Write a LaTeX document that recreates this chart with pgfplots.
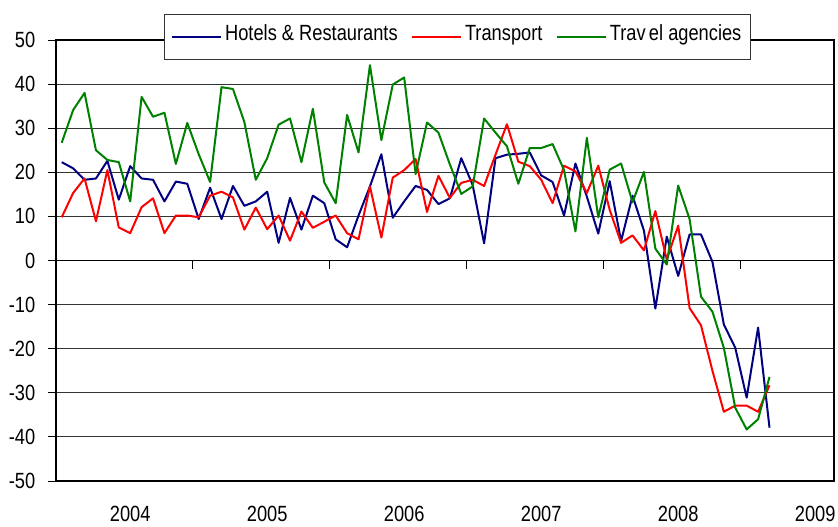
\documentclass[border=0pt]{standalone}
\usepackage{pgfplots}
\pgfplotsset{compat=1.18}
\usepackage{fontspec}
\setmainfont{Liberation Sans}[FakeStretch=0.83]
\definecolor{hrblue}{RGB}{0,0,128}
\definecolor{trred}{RGB}{255,0,0}
\definecolor{tagreen}{RGB}{0,128,0}
\begin{document}
\begin{tikzpicture}
\path[use as bounding box] (-42pt,-33.75pt) rectangle (586.5pt,360.75pt);
\begin{axis}[
  at={(0,0)}, anchor=south west,
  scale only axis,
  width=583.5pt, height=330.75pt,
  xmin=0.5, xmax=68.65,
  ymin=-50, ymax=50,
  ytick={-50,-40,...,50},
  yticklabels={-50,-40,-30,-20,-10,0,10,20,30,40,50},
  xtick={7,19,31,43,55,67},
  xticklabels={2004,2005,2006,2007,2008,2009},
  x tick style={draw=none},
  ytick pos=left,
  y tick style={black, line width=0.75pt},
  tick align=outside,
  major tick length=6pt,
  ymajorgrids,
  grid style={black!80, line width=0.75pt},
  axis line style={black, line width=1.2pt},
  every tick label/.append style={font=\fontsize{16.5}{19}\selectfont},
  yticklabel style={xshift=-6pt},
  xticklabel style={inner ysep=0pt, yshift=-13pt},
  legend columns=3,
  legend style={at={(0.1388,1.059)}, anchor=north west,
    draw=black!80, line width=0.75pt, fill=white,
    font=\fontsize{16.5}{19}\selectfont,
    inner xsep=5pt, inner ysep=8pt,
    nodes={inner xsep=2pt, inner ysep=0pt, text height=11.5pt, text depth=6pt},
    /tikz/every even column/.append style={column sep=8pt}},
  legend image code/.code={\draw[#1] (0pt,0pt) -- (37pt,0pt);},
]
\draw[black, line width=1pt] (axis cs:0.5,0) -- (axis cs:68.65,0);
\pgfplotsinvokeforeach{12.5,24.5,36.5,48.5,60.5}{
  \draw[black, line width=0.75pt] (axis cs:#1,0) -- ([yshift=-6pt]axis cs:#1,0);
}
\addplot[hrblue, line width=1.5pt, line join=round] coordinates {
(1,22.3)(2,20.9)(3,18.3)(4,18.6)(5,22.6)(6,13.8)(7,21.4)(8,18.6)(9,18.3)(10,13.4)
(11,17.9)(12,17.4)(13,9.4)(14,16.5)(15,9.4)(16,16.9)(17,12.4)(18,13.4)(19,15.6)(20,4.0)
(21,14.2)(22,7.0)(23,14.7)(24,13.0)(25,4.8)(26,3.0)(27,10.2)(28,16.8)(29,24.1)(30,9.7)
(31,13.4)(32,16.9)(33,16.0)(34,12.8)(35,14.1)(36,23.2)(37,17.1)(38,3.9)(39,23.2)(40,24.0)
(41,24.2)(42,24.5)(43,19.3)(44,17.8)(45,10.2)(46,22.0)(47,14.5)(48,6.1)(49,18.0)(50,4.4)
(51,14.7)(52,6.8)(53,-10.9)(54,5.4)(55,-3.5)(56,5.9)(57,5.9)(58,-0.3)(59,-14.5)(60,-19.8)
(61,-31.1)(62,-15.2)(63,-37.9)
};
\addlegendentry{Hotels \& Restaurants}
\addplot[trred, line width=1.5pt, line join=round] coordinates {
(1,9.8)(2,15.3)(3,18.6)(4,8.9)(5,20.5)(6,7.5)(7,6.2)(8,12.1)(9,14.1)(10,6.2)
(11,10.2)(12,10.2)(13,9.8)(14,14.7)(15,15.6)(16,14.3)(17,7.0)(18,12.0)(19,7.1)(20,10.2)
(21,4.5)(22,11.1)(23,7.4)(24,8.8)(25,10.2)(26,6.2)(27,4.8)(28,16.8)(29,5.2)(30,18.8)
(31,20.5)(32,23.0)(33,11.0)(34,19.2)(35,14.2)(36,17.6)(37,18.3)(38,16.9)(39,24.0)(40,30.9)
(41,22.4)(42,21.4)(43,18.3)(44,13.0)(45,21.5)(46,20.2)(47,15.3)(48,21.5)(49,11.5)(50,4.0)
(51,5.7)(52,2.3)(53,11.2)(54,0.2)(55,7.9)(56,-10.8)(57,-14.7)(58,-25.0)(59,-34.3)(60,-32.9)
(61,-32.9)(62,-34.3)(63,-28.3)
};
\addlegendentry{Transport}
\addplot[tagreen, line width=1.5pt, line join=round] coordinates {
(1,26.7)(2,34.1)(3,38.0)(4,25.0)(5,22.8)(6,22.3)(7,13.4)(8,37.1)(9,32.6)(10,33.5)
(11,21.9)(12,31.2)(13,24.1)(14,17.8)(15,39.3)(16,38.9)(17,31.4)(18,18.3)(19,23.2)(20,30.8)
(21,32.2)(22,22.3)(23,34.4)(24,17.7)(25,13.0)(26,33.0)(27,24.5)(28,44.3)(29,27.3)(30,39.9)
(31,41.5)(32,19.6)(33,31.3)(34,29.0)(35,21.8)(36,15.1)(37,16.8)(38,32.2)(39,29.0)(40,25.9)
(41,17.4)(42,25.5)(43,25.5)(44,26.4)(45,20.5)(46,6.6)(47,27.8)(48,9.8)(49,20.6)(50,22.0)
(51,13.2)(52,20.1)(53,2.7)(54,-0.9)(55,17.0)(56,9.4)(57,-8.2)(58,-11.6)(59,-19.8)(60,-33.4)
(61,-38.3)(62,-36.0)(63,-26.4)
};
\addlegendentry{Trav\hspace{2.5pt}el agencies}
\end{axis}
\end{tikzpicture}
\end{document}
